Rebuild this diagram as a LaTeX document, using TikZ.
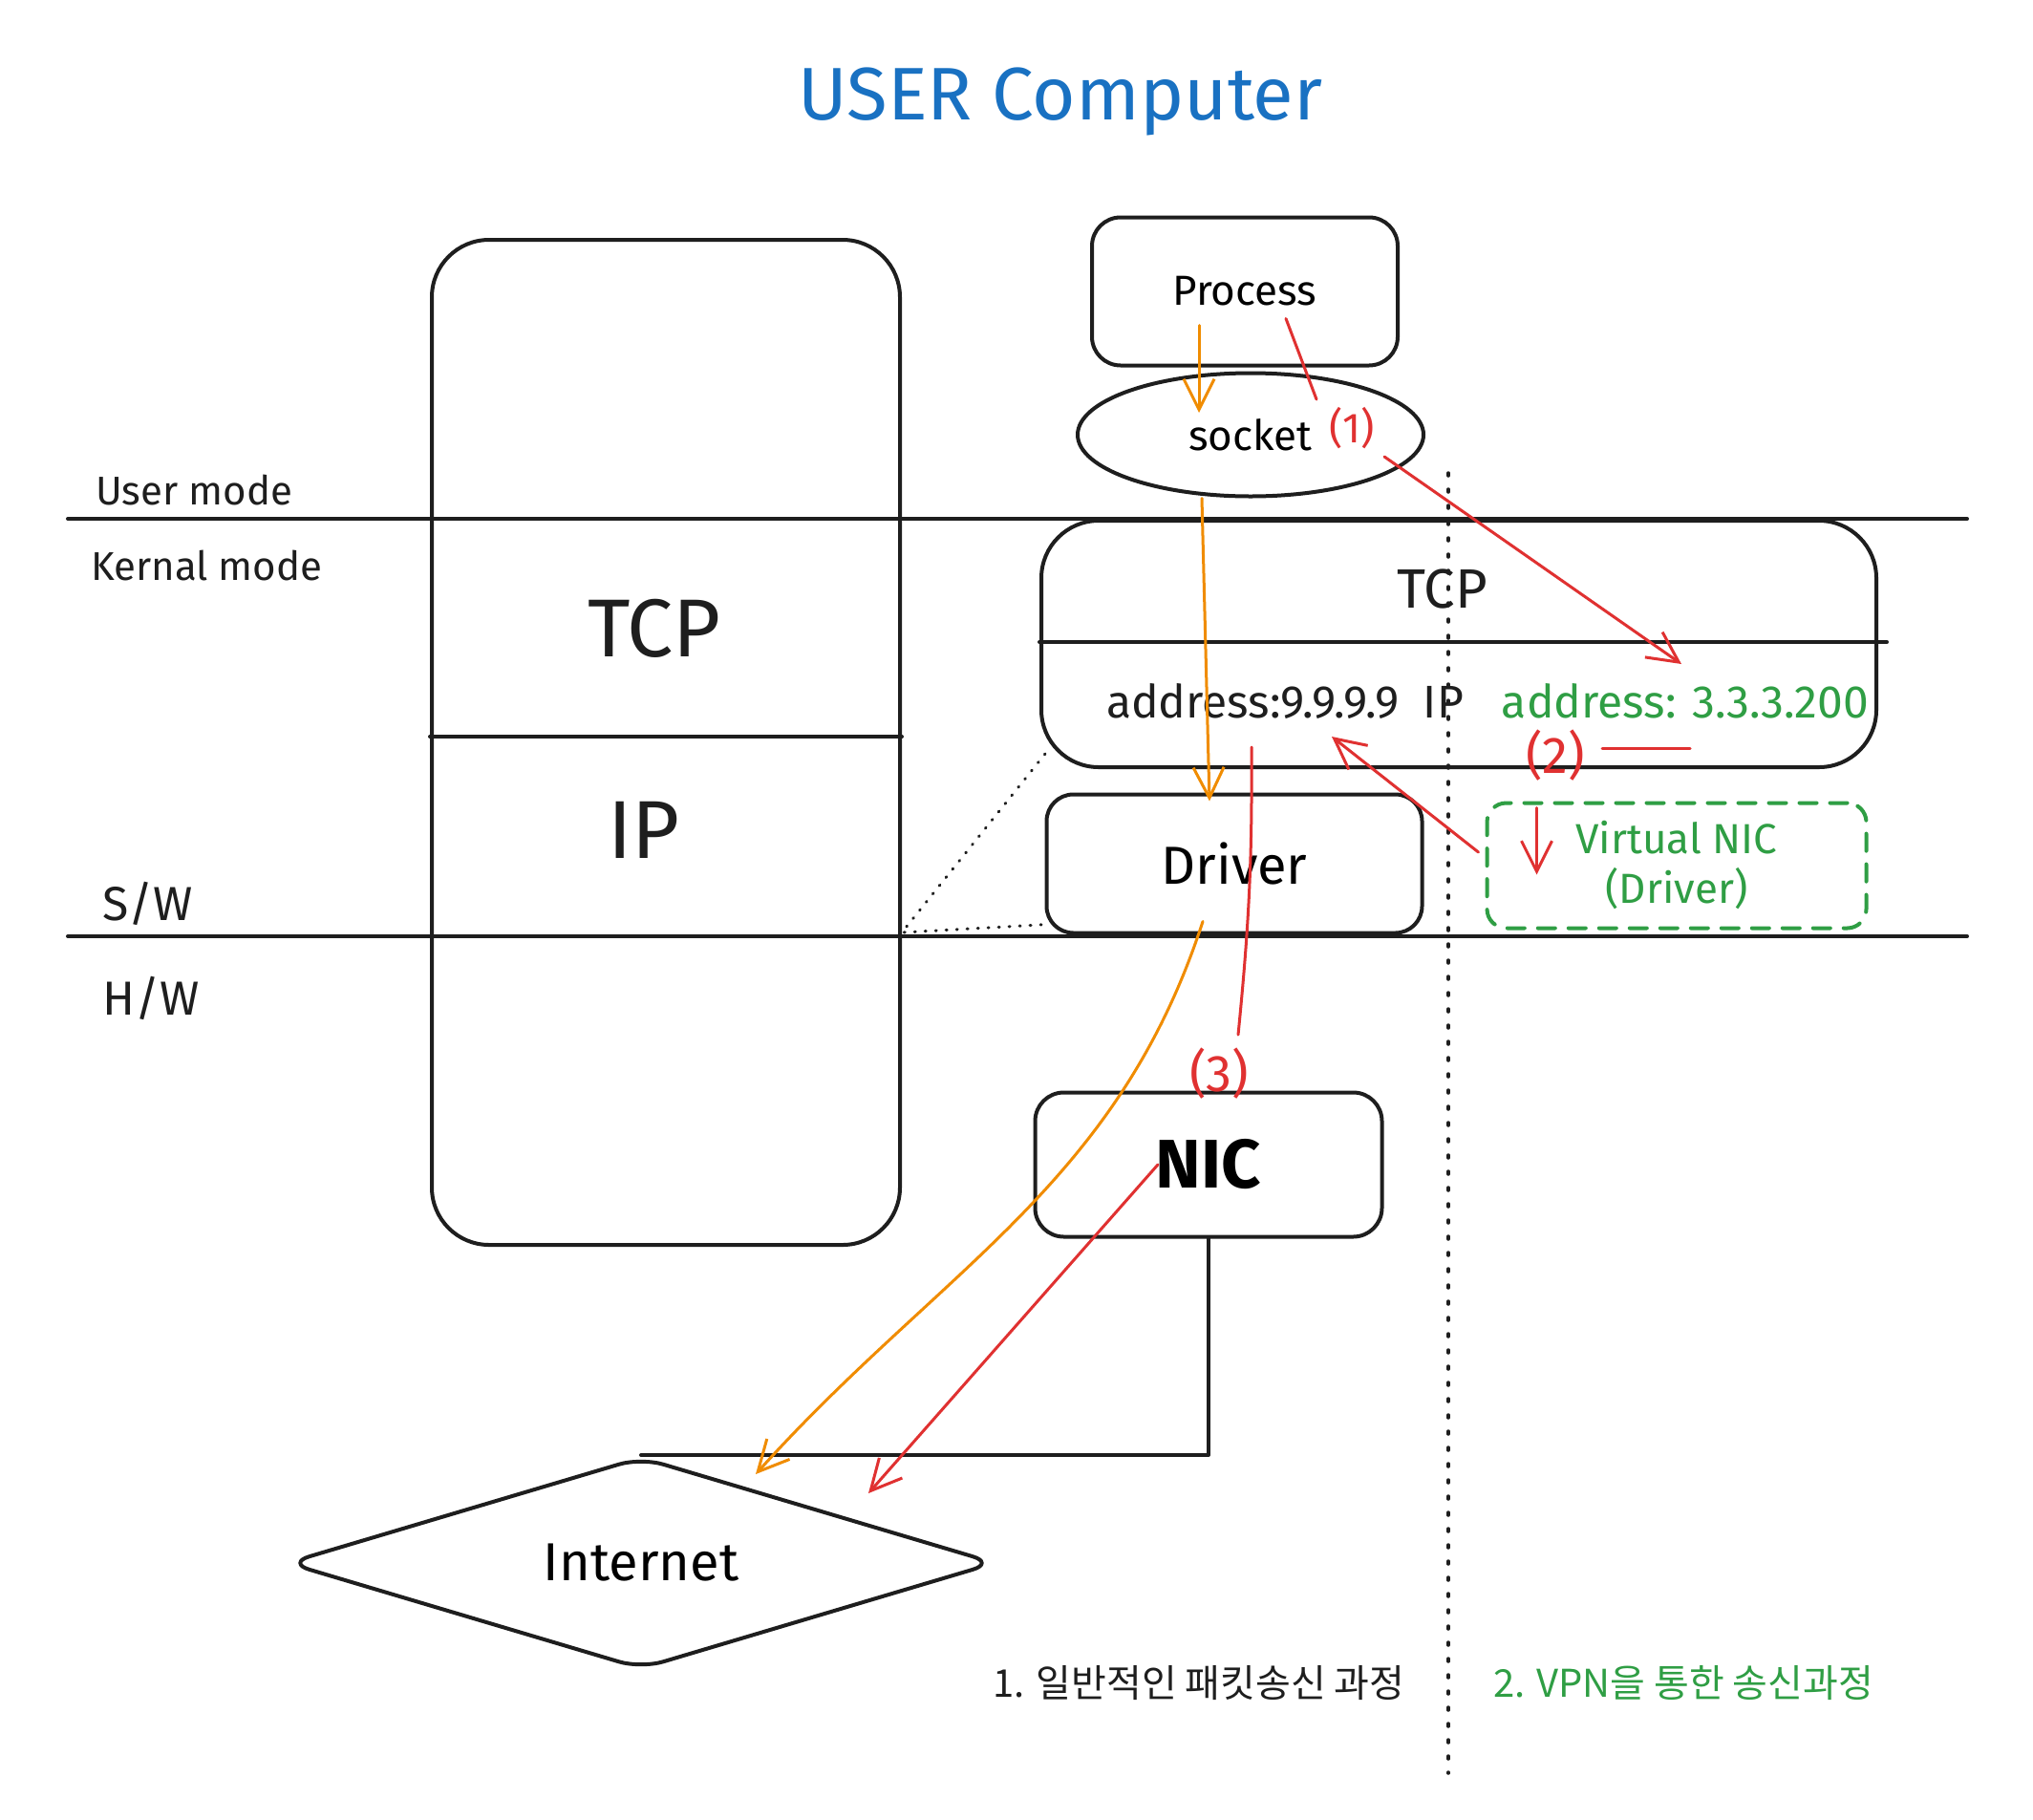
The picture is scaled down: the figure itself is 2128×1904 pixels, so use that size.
\documentclass[tikz,border=0pt]{standalone}
\usepackage{fontspec}
\setmainfont{Fira Sans}
\newfontfamily\kofont{Noto Sans CJK KR}
\usepackage{xcolor}
\usepackage{tikz}
\usetikzlibrary{shapes.geometric, arrows.meta}

\newcommand{\fsz}[1]{\fontsize{#1}{#1}\selectfont}

\begin{document}
\begin{tikzpicture}[x=1pt, y=-1pt, line cap=round, line join=round,
    >={Straight Barb[length=32pt, width=32pt]},
    sketch/.style={draw=ink, line width=4pt, rectangle, rounded corners=#1},
    sketch/.default=28pt,
    flow/.style={->, line width=3pt},
    mark2/.style={line width=3pt, pathred},
    word/.style={inner sep=0pt, text=ink}]
  \definecolor{ink}{HTML}{1E1E1E}
  \definecolor{ublue}{HTML}{1971C2}
  \definecolor{pathorange}{HTML}{F08C00}
  \definecolor{pathred}{HTML}{E03131}
  \definecolor{vpngreen}{HTML}{2F9E44}

  \fill[white] (0,0) rectangle (2128,1904);

  % Define positions
  \node (title) [word, text=ublue, font=\fsz{78}] at (1110,106) {USER Computer};

  \node (stack) [sketch=60pt, minimum width=490pt, minimum height=1052pt] at (697,777) {};
  \node (stacktcp) [word, font=\fsz{86}] at (685,658) {TCP};
  \node (stackip) [word, font=\fsz{86}] at (674,869) {IP};
  \draw[ink, line width=4pt] (stack.west |- 0,771) -- (stack.east |- 0,771);

  % mode borders
  \draw[ink, line width=4pt] (71,543) -- (2059,543);
  \draw[ink, line width=4pt] (71,980) -- (2059,980);
  \node (usermode) [word, anchor=west, font=\fsz{42}] at (100,513) {User mode};
  \node (kernalmode) [word, anchor=west, font=\fsz{42}] at (95,592) {Kernal mode};
  \node (sw) [word, anchor=west, font=\fsz{50}] at (107,946) {S/W};
  \node (hw) [word, anchor=west, font=\fsz{50}] at (107,1045) {H/W};

  \node (process) [sketch=30pt, minimum width=320pt, minimum height=155pt, font=\fsz{44}] at (1303,305) {Process};
  \node (socket) [ellipse, draw=ink, line width=4pt, minimum width=362pt, minimum height=129pt, font=\fsz{44}] at (1309,455) {socket};
  \node (lbl1) [word, text=pathred, font=\fsz{44}] at (1415,448) {(1)};

  \node (tcpip) [sketch=60pt, minimum width=874pt, minimum height=258pt] at (1527,674) {};
  \draw[ink, line width=4pt] (tcpip.west |- 0,672) -- (1975,672);
  \node (tcptxt) [word, font=\fsz{58}] at (1510,617) {TCP};
  \node (ipaddr) [word, font=\fsz{48}] at (1345,734) {address:9.9.9.9\ \ IP};
  \node (vpnaddr) [word, text=vpngreen, font=\fsz{48}] at (1764,734) {address: 3.3.3.200};

  \node (driver) [sketch=28pt, minimum width=393pt, minimum height=145pt, font=\fsz{56}] at (1292,904) {Driver};
  \node (vnic) [sketch=20pt, draw=vpngreen, dashed, dash pattern=on 18pt off 14pt, minimum width=397pt, minimum height=131pt,
    text=vpngreen, align=center, font=\fontsize{44}{52}\selectfont] at (1755,906) {Virtual NIC\\(Driver)};
  \node (lbl2) [word, text=pathred, font=\fsz{54}] at (1628,791) {(2)};

  \node (nic) [sketch=30pt, minimum width=363pt, minimum height=151pt, font=\fsz{72}\bfseries] at (1265,1219) {NIC};
  \node (lbl3) [word, text=pathred, font=\fsz{54}] at (1276,1124) {(3)};

  \node (internet) [diamond, draw=ink, line width=4pt, aspect=3.3, rounded corners=24pt,
    minimum width=742pt, minimum height=222pt, font=\fsz{56}] at (671,1636) {Internet};

  \node (legend1) [word, font=\kofont\fsz{40}] at (1255,1761) {1. 일반적인 패킷송신 과정};
  \node (legend2) [word, text=vpngreen, font=\kofont\fsz{40}] at (1762,1761) {2. VPN을 통한 송신과정};

  % dotted guides
  \draw[ink, line width=3.5pt, dash pattern=on 3pt off 14pt] (1516,495) -- (1516,1856);
  \draw[ink, line width=3pt, dash pattern=on 1pt off 10pt] ([xshift=6pt, yshift=16pt]tcpip.south west)
    -- (944,976) -- ([xshift=4pt, yshift=11pt]driver.south west);
  \draw[ink, line width=4pt] (nic.south) |- (internet.north);

  % Arrows
  \draw[flow, pathorange] ([xshift=-48pt, yshift=44pt]process.south) -- ([xshift=-54pt, yshift=23pt]socket.center);
  \draw[flow, pathorange] ([xshift=-51pt]socket.south) -- ([xshift=-26pt, yshift=-9pt]driver.north);
  \draw[flow, pathorange] ([xshift=-33pt, yshift=14pt]driver.south) to[out=-108, in=48] ([xshift=120pt, yshift=-20pt]internet.north);

  \draw[mark2] ([xshift=43pt, yshift=51pt]process.south) -- ([xshift=69pt, yshift=37pt]socket.center);
  \draw[flow, pathred] ([xshift=140pt, yshift=-23pt]socket.center) -- ([xshift=-4pt, yshift=39pt]vpnaddr.center);
  \draw[flow, pathred] ([xshift=-7pt, yshift=14pt]vnic.west) -- ([xshift=49pt, yshift=-37pt]ipaddr.center);
  \draw[mark2] ([xshift=18pt, yshift=8pt]lbl2.east) -- ++(92,0);
  \draw[flow, pathred] ([xshift=54pt, yshift=-7pt]vnic.north west) -- ++(0,70);
  \draw[mark2] ([xshift=-217pt, yshift=23pt]tcpip.south) to[bend left=3] ([xshift=20pt, yshift=14pt]lbl3.north);
  \draw[flow, pathred] ([xshift=-53pt]nic.center) -- ([xshift=238pt, yshift=-40pt]internet.north);
\end{tikzpicture}
\end{document}
